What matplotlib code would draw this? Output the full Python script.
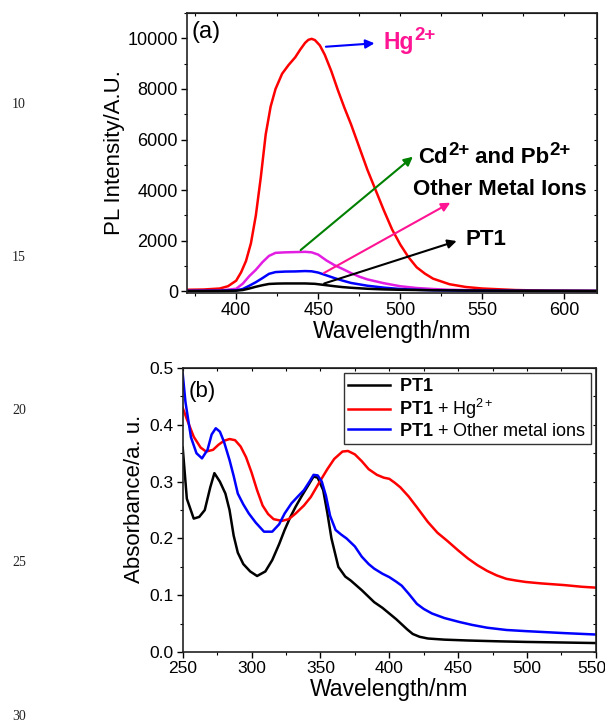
import numpy as np
import matplotlib
matplotlib.use('Agg')
import matplotlib.pyplot as plt
from matplotlib.ticker import MultipleLocator, FormatStrFormatter
from matplotlib.transforms import ScaledTranslation

plt.rcParams['font.family'] = ['Liberation Sans', 'DejaVu Sans']
plt.rcParams['mathtext.fontset'] = 'custom'
plt.rcParams['mathtext.rm'] = 'Liberation Sans'
plt.rcParams['mathtext.bf'] = 'Liberation Sans:bold'
plt.rcParams['mathtext.it'] = 'Liberation Sans:italic'

# (a) PL spectra
hg_wl = [370, 380, 390, 395, 400, 403, 406, 409, 412, 415, 418, 421, 424, 428, 432, 436, 439,
         442, 444, 446, 448, 451, 454, 458, 462, 466, 470, 475, 480, 485, 490, 495, 500, 505, 510, 515,
         520, 530, 540, 550, 570, 590, 620]
hg_pl = [60, 70, 110, 200, 420, 750, 1200, 1900, 3000, 4500, 6200, 7300, 8000, 8600, 8950, 9250, 9550,
         9820, 9940, 9980, 9930, 9720, 9350, 8700, 7950, 7250, 6600, 5700, 4800, 4000, 3200, 2450, 1850, 1350,
         950, 700, 500, 280, 170, 110, 50, 25, 10]

cdpb_wl = [370, 390, 400, 404, 408, 412, 416, 420, 424, 430, 436, 442, 446, 450, 455, 460, 465, 470,
           475, 480, 490, 500, 510, 520, 530, 550, 580, 620]
cdpb_pl = [20, 30, 100, 300, 600, 850, 1150, 1400, 1520, 1540, 1550, 1560, 1540, 1450, 1220, 1030, 880, 720,
           580, 470, 320, 200, 130, 90, 60, 35, 20, 15]

other_wl = [370, 390, 400, 404, 408, 412, 416, 420, 424, 430, 436, 442, 446, 450, 455, 460, 465, 470,
            480, 490, 500, 510, 520, 540, 580, 620]
other_pl = [15, 20, 40, 90, 220, 360, 520, 690, 760, 780, 785, 800, 790, 740, 630, 520, 420, 330,
            220, 145, 90, 60, 40, 25, 15, 10]

pt1_wl = [370, 390, 400, 404, 408, 412, 416, 420, 425, 430, 436, 442, 448, 455, 460, 465, 470, 480,
          490, 500, 520, 540, 580, 620]
pt1_pl = [10, 15, 25, 50, 110, 180, 240, 290, 305, 310, 310, 310, 295, 240, 200, 165, 140, 100,
          75, 60, 40, 30, 20, 15]

# (b) absorption spectra
abs_pt1_wl = [250, 253, 258, 262, 266, 270, 273, 277, 281, 284, 287, 290, 294, 299, 304, 310, 315, 320,
              324, 328, 332, 336, 341, 345, 348, 352, 355, 358, 363, 368, 372, 380, 389, 395, 400, 405,
              409, 413, 417, 422, 428, 440, 457, 480, 499, 525, 550]
abs_pt1 = [0.36, 0.27, 0.235, 0.238, 0.25, 0.29, 0.315, 0.30, 0.279, 0.25, 0.205, 0.175, 0.155, 0.142, 0.134,
           0.142, 0.162, 0.19, 0.215, 0.237, 0.256, 0.273, 0.293, 0.309, 0.307, 0.285, 0.245, 0.2, 0.15, 0.133,
           0.126, 0.109, 0.088, 0.078, 0.068, 0.058, 0.049, 0.04, 0.032, 0.027, 0.024, 0.022, 0.0205, 0.019,
           0.018, 0.017, 0.016]

abs_hg_wl = [250, 253, 258, 263, 267, 272, 276, 280, 284, 288, 292, 296, 300, 304, 308, 312, 316, 322,
             327, 332, 338, 343, 349, 355, 360, 366, 370, 375, 380, 385, 391, 396, 400, 404, 408, 414,
             420, 428, 435, 442, 450, 457, 464, 471, 478, 485, 492, 499, 510, 527, 540, 550]
abs_hg = [0.43, 0.41, 0.379, 0.36, 0.353, 0.356, 0.365, 0.372, 0.375, 0.373, 0.362, 0.343, 0.316, 0.285, 0.258,
          0.243, 0.234, 0.231, 0.234, 0.244, 0.258, 0.273, 0.298, 0.322, 0.34, 0.353, 0.354, 0.348, 0.336, 0.322,
          0.312, 0.307, 0.305, 0.298, 0.29, 0.274, 0.255, 0.229, 0.21, 0.196, 0.179, 0.165, 0.153, 0.143, 0.135,
          0.129, 0.126, 0.1235, 0.121, 0.118, 0.115, 0.1135]

abs_other_wl = [250, 252, 256, 260, 264, 268, 271, 274, 277, 280, 284, 287, 290, 294, 298, 303, 309, 315,
                320, 324, 329, 334, 338, 342, 345, 348, 351, 354, 357, 361, 365, 369, 375, 380, 385, 389,
                395, 400, 405, 409, 414, 420, 425, 431, 440, 451, 460, 471, 485, 499, 515, 527, 550]
abs_other = [0.49, 0.44, 0.378, 0.35, 0.341, 0.356, 0.383, 0.394, 0.388, 0.37, 0.338, 0.31, 0.279, 0.26, 0.244,
             0.228, 0.212, 0.212, 0.225, 0.244, 0.262, 0.275, 0.285, 0.3, 0.312, 0.311, 0.3, 0.275, 0.24, 0.215,
             0.207, 0.2, 0.186, 0.168, 0.155, 0.147, 0.138, 0.132, 0.124, 0.117, 0.103, 0.085, 0.076, 0.068, 0.06,
             0.053, 0.048, 0.043, 0.039, 0.037, 0.035, 0.0335, 0.031]

legend_labels = [r'$\mathbf{PT1}$', r'$\mathbf{PT1}$ + Hg$^{2+}$', r'$\mathbf{PT1}$ + Other metal ions']
line_numbers = ['10', '15', '20', '25', '30']


def style_axes(ax, xmajor, xminor, ymajor, yminor, labelsize):
    ax.xaxis.set_major_locator(MultipleLocator(xmajor))
    ax.xaxis.set_minor_locator(MultipleLocator(xminor))
    ax.yaxis.set_major_locator(MultipleLocator(ymajor))
    ax.yaxis.set_minor_locator(MultipleLocator(yminor))
    ax.tick_params(which='major', direction='out', length=4.5, width=1.0, labelsize=labelsize, pad=2)
    ax.tick_params(which='minor', direction='out', length=2.5, width=0.8)
    for s in ax.spines.values():
        s.set_linewidth(1.2)
        s.set_color('#222222')
    top = ax.secondary_xaxis('top')
    top.xaxis.set_major_locator(MultipleLocator(xmajor))
    top.xaxis.set_minor_locator(MultipleLocator(xminor))
    top.tick_params(which='both', direction='in', labeltop=False, length=2.5, width=0.8)
    right = ax.secondary_yaxis('right')
    right.yaxis.set_major_locator(MultipleLocator(ymajor))
    right.yaxis.set_minor_locator(MultipleLocator(yminor))
    right.tick_params(which='both', direction='in', labelright=False, length=2.5, width=0.8)


def ion_label(ax, x, y, pieces, size=16, supsize=13, color='black'):
    # pieces: list of (text, is_superscript); chained so each piece follows the last
    first = ax.text(x, y, pieces[0][0], fontsize=size, fontweight='bold', color=color,
                    va='center', ha='left')
    prev = first
    for txt, sup in pieces[1:]:
        if sup:
            prev = ax.annotate(txt, xy=(1, 0.42), xycoords=(prev, first), fontsize=supsize,
                               fontweight='bold', color=color, va='bottom', ha='left')
        else:
            prev = ax.annotate(txt, xy=(1, 0), xycoords=(prev, first), fontsize=size,
                               fontweight='bold', color=color, va='bottom', ha='left')
    return first


fig = plt.figure(figsize=(6.05, 7.23), dpi=100)

# ---- panel (a)
ax1 = fig.add_axes([0.309, 0.595, 0.678, 0.387])
ax1.plot(hg_wl, hg_pl, color='#ff0000', lw=1.8)
ax1.plot(cdpb_wl, cdpb_pl, color='#e21ee2', lw=1.8)
ax1.plot(other_wl, other_pl, color='#0000ff', lw=1.8)
ax1.plot(pt1_wl, pt1_pl, color='#000000', lw=1.8)
ax1.set_xlim(370, 620)
ax1.set_ylim(-60, 11000)
style_axes(ax1, 50, 25, 2000, 1000, 13)
ax1.set_xlabel('Wavelength/nm', fontsize=16.5, labelpad=1)
ax1.set_ylabel('PL Intensity/A.U.', fontsize=16, labelpad=2)
ax1.text(0.012, 0.97, '(a)', transform=ax1.transAxes, fontsize=17, va='top', ha='left')

arrow_kw = dict(arrowstyle='-|>', lw=1.5, mutation_scale=13)
ax1.annotate('', xy=(486, 9810), xytext=(453, 9660), arrowprops=dict(color='#0000ff', **arrow_kw))
ion_label(ax1, 490, 9850, [('Hg', False), ('2+', True)], size=16.5, supsize=13.5, color='#ff1493')
ax1.annotate('', xy=(509, 5390), xytext=(438, 1560), arrowprops=dict(color='#008000', **arrow_kw))
ion_label(ax1, 511, 5300, [('Cd', False), ('2+', True), (' and Pb', False), ('2+', True)],
          size=16, supsize=13.5)
ax1.annotate('', xy=(532, 3555), xytext=(452, 670), arrowprops=dict(color='#ff1493', **arrow_kw))
ax1.text(508, 4040, 'Other Metal Ions', fontsize=16, fontweight='bold', va='center')
ax1.annotate('', xy=(536, 2020), xytext=(452, 275), arrowprops=dict(color='#000000', **arrow_kw))
ax1.text(540, 2050, 'PT1', fontsize=16, fontweight='bold', va='center')

# ---- panel (b)
ax2 = fig.add_axes([0.302, 0.098, 0.683, 0.393])
l1, = ax2.plot(abs_pt1_wl, abs_pt1, color='#000000', lw=1.8)
l2, = ax2.plot(abs_hg_wl, abs_hg, color='#ff0000', lw=1.8)
l3, = ax2.plot(abs_other_wl, abs_other, color='#0000ff', lw=1.8)
ax2.set_xlim(250, 550)
ax2.set_ylim(0, 0.5)
style_axes(ax2, 50, 25, 0.1, 0.05, 12.5)
ax2.yaxis.set_major_formatter(FormatStrFormatter('%.1f'))
ax2.set_xlabel('Wavelength/nm', fontsize=16.5, labelpad=1)
ax2.set_ylabel('Absorbance/a. u.', fontsize=16, labelpad=3)
ax2.yaxis.set_label_coords(-0.092, 0.54)
ax2.text(0.015, 0.955, '(b)', transform=ax2.transAxes, fontsize=16, va='top', ha='left')
leg = ax2.legend([l1, l2, l3], legend_labels, loc='upper right', fontsize=13, frameon=True,
                 fancybox=False, edgecolor='#333333', framealpha=1, borderaxespad=0.3,
                 handlelength=2.3, labelspacing=0.1, borderpad=0.25, handletextpad=0.5)
leg.get_frame().set_linewidth(1.0)

# manuscript line numbers
for i, t in enumerate(line_numbers):
    fig.text(12 / 605, 1 - (104 + i * 153) / 723, t, fontsize=10, family='Liberation Serif',
             color='#222222', va='center', ha='left')

# nudge the last x tick label of (b) so it stays inside the figure
fig.canvas.draw()
for tick in ax2.xaxis.get_major_ticks():
    if abs(tick.get_loc() - 550) < 1e-6:
        lab = tick.label1
        lab.set_transform(lab.get_transform() + ScaledTranslation(-3 / 72, 0, fig.dpi_scale_trans))

fig.savefig('out.png', dpi=100)
